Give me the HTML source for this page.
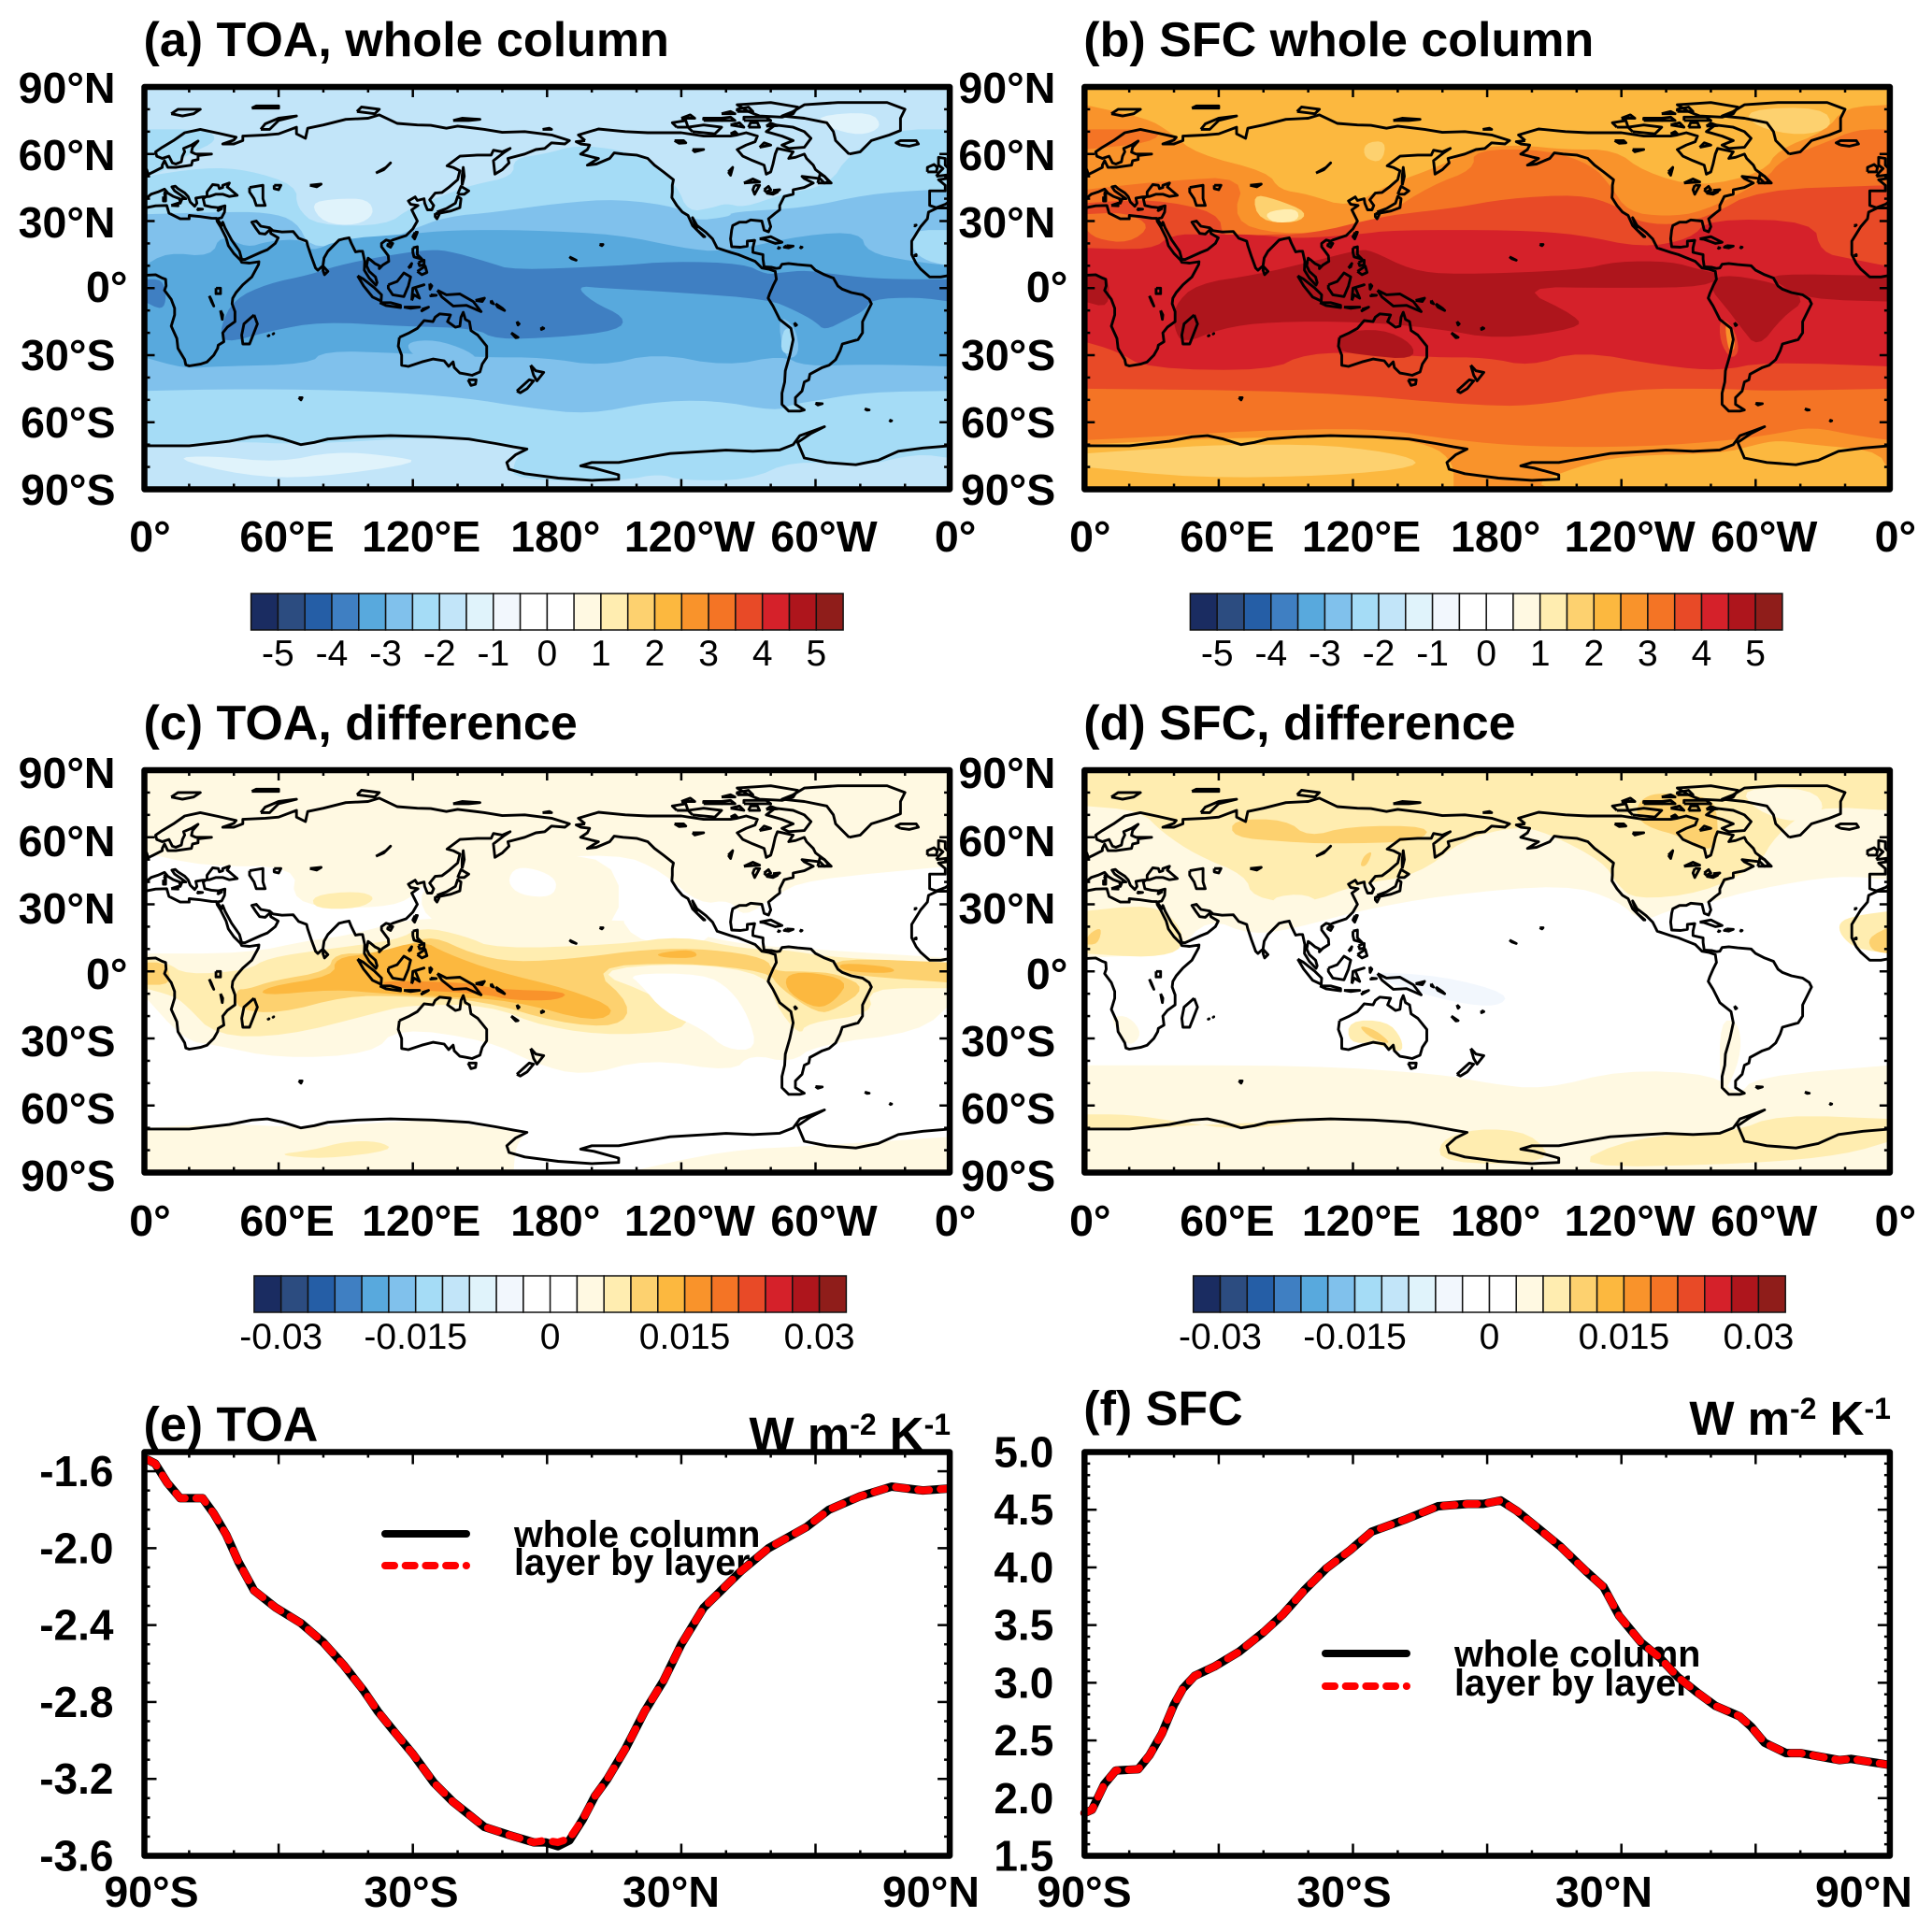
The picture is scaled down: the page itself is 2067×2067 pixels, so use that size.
<!DOCTYPE html>
<html lang="en">
<head>
<meta charset="utf-8">
<title>Radiative kernel maps and zonal means</title>
<style>
html,body{margin:0;padding:0;background:#fff}
svg{display:block}
text{font-family:"Liberation Sans",sans-serif;fill:#000}
</style>
</head>
<body>
<svg id="figure" xmlns="http://www.w3.org/2000/svg" width="2067" height="2067" viewBox="0 0 2067 2067"></svg>
<script>
// ---------- shared colour scale ----------
const palette=['#1a2c61','#2c4c80','#255ea6','#3f7fc2','#58a9dd','#80c1ec','#a5dcf6','#c2e5f9','#e0f3fb','#f2f7fd','#ffffff','#ffffff','#fff9e2','#ffedb0','#fdd16f','#fcb83f','#f9932b','#f47425','#e84a27','#d5212a','#ae151c','#8f1d1a'];
const C4=3,C5=4,C6=5,C7=6,C8=7,C9=8,BLUE=9,W=10,L13=12,L14=13,L15=14,L16=15,L17=16,L18=17,L19=18,L20=19,L21=20;
function band(n,s){const r=n.slice();for(let i=s.length-2;i>=0;i-=2){r.push(s[i],s[i+1]);}return r;}

// ---------- coastlines: flat lon,lat pairs ----------
const coastEurasia=[0,39.5,3,42,6,43,9,44.3,10.5,42.5,13,41,15.7,40,16,38,16.9,40,18.5,40,16,41.8,13.5,43.5,12.3,45.3,13.8,45.6,15,44.5,18,42.6,19.5,41,20.5,38.5,22.5,36.6,23.5,38,23,40.3,26,40.8,29,41,32,42,35,42,38,41,41.5,41.5,38,44.5,37,45.2,38,47,35,46,35,45,33.5,44.5,33,46,30.5,46.3,28,43,28,41.2,26.3,40,27,37,30,36.3,33,36,36,36.8,35.8,34,34.5,31.5,32.5,31,34.5,28,35,29.5,36,27,39,21.5,42.5,16.5,43.5,12.8,45,12.8,52,16,55,17.2,58.5,20,59.8,22.5,56.5,24.5,56.3,26.3,54,24.2,51.5,24.5,50,26.5,48,29.5,50,30,52,27.7,56,27,57.5,25.7,61.5,25.1,66.5,25.3,68,23.5,69,22.3,72.5,21,73,19,74.5,14.5,76.5,9,77.5,8,79.8,10,80.3,13.5,82,16.5,85,19.5,87,21.5,89,22,91.5,22.5,92.5,20,94.4,16.2,96,16.5,97.5,16.5,98.5,12,98.3,8,100.5,4.5,103.5,1.3,104,2.5,103.3,5,100.5,7.5,99.3,10,100,13.4,101,12.7,103,11,105,10,105,8.7,106.5,10.3,109.2,12,109,14.5,106,18.5,106,20,108,21.5,110,21,111,21.5,114,22.5,117,23.5,120,26.5,122,30,121,32,119.5,35,122.3,37,119,37.5,118,39,121,40.8,122,39.2,125,40,125.3,38,126.5,35,128.5,35,129.3,37,127.5,39.5,130,42.5,133,42.8,136,45,140,48.5,141,52.5,138,54,135.3,54.7,141,59,149,59.5,155,59.5,156,61.7,160,61,163.5,62.5,160.5,60.5,156,57,156.7,51,160,53,163,56,162.5,58,170,60,175,62,179,62.5,182,65,188,64.5,190,66,182,68.5,170,70,160,69.7,152,71,140,72.5,135,71.5,128,72.8,122,73,113,73.7,105,77.5,100,76,90,75.5,80,73,73,71.5,72,67,68,69,68,72,60,69,54,68.5,44,68,44,66,40,64.5,35,64.5,40,66.2,41,67.5,33,69.3,25,71,18,69.5,13,66,8,63,5,61,5.5,59,8,58,11,59,12.5,56,14,55.5,16.5,56.5,17,59,18,61,17.5,62.5,21,64,24,65.8,21.5,63,21,60.8,23,60,30,60,24,59.3,24,57.5,21.5,57,21,55,14,54,10.5,54,9,57,8,55,8,54,4,52,1.5,50.8,0,49.5];
const coastIberia=[360,49.5,358.5,49,355,48.5,358,46,358,43.5,351,43.5,351,37,354,36,358,37.5,360,38.8];
const coastAfricaEast=[0,5.7,5,6,8,4.5,9.5,4,9.7,1,9,-1,12,-5,13.5,-9,13.5,-12,12,-17,14.5,-22.5,15,-27,18,-32,18.5,-34.3,20,-34.8,25,-34,28,-33,31,-30,32.7,-27,33,-25.5,35.5,-24,35,-20,37,-17.5,40.5,-15,40.5,-10.5,39.2,-7,39.5,-4.5,41,-2,44,1.5,48,5,51,10.5,51.2,11.8,47,11.2,43.5,11.5,43,12.5,40,15.5,37.5,19,36.5,22.5,34,27.5,32.5,29.9,32.3,31.2,30,31.3,25,32,20,32.5,20,31,16,31,11,33.5,10,37,5,36.8,0,35.8];
const coastAfricaWest=[360,35.8,354.5,35.9,350.5,34,350,31,347,27.5,343,21,343,15,345,11,347,8.5,351,5,356,5,360,5.7];
const coastAmericas=[197,66,193,65.5,195,64.5,199,64,198,62,195,60,200,58.7,203,58,198,55,202,55.5,208,58,210,60.5,214,60,220,59.5,225,58,228,55,232,52,236.5,48.5,236,46,236,43,235.8,40.5,238,37,240.5,34,243,32.5,245,28,250,23,250.5,23,247,26,245,31.5,247,28,251,25,254,22,255,20,256,18,262,16,265.5,15,268,14,273,12,276,9,279,8.5,282,7.5,282.5,4,281,1,279.5,-2.5,278.8,-4.5,281,-8,284,-14,289,-18,290,-23,288.5,-30,286.5,-37,286.2,-42,285,-47,285,-52,288,-55,293,-55,295,-54.5,291,-52,291,-49,294,-46,295,-42,297,-41,297.5,-38.5,303,-35.5,306,-34.5,309,-32,311,-28,312,-25,319,-23,321,-20,321,-15,325,-7,324,-5,321,-3,316,-2,312,-0.5,310,1,308,4.5,304,6,300,8,298,10,292,10.5,288,11,285,10.7,284,9,282.5,8.8,280.5,9.3,277,9.5,276.5,13,276.5,15,272,16,272,18,272.8,21.4,269.5,21,269.5,18.8,266.5,18.3,262.5,18.5,262,22,262.5,26,263,28,266,29.5,269,29.5,271,30.5,276,30,277,26,279,25.2,280,27.5,279,31,282,33.5,284,35,284,37,286,41,290,42,290,44,295,45,299,47,295,49,294,50,302,49,304,47,306,47.5,304,50,300,53,299,55,296,58,295,60,291,58.5,288,58,290,61,283,62.5,282,60,281,55.5,280,52,278,51,277.5,53,277,55,272,57,267.5,59,265,62,269,64,273,65.5,274,68,269,69.5,265,68.5,262,68,250,68,240,69.5,225,69.5,215,70,203,71.2,194,68.5,197,66];
const coastAntarcticaWest=[0,-70.5,20,-70.5,38,-68.5,48,-66.5,55,-66,62,-67.5,70,-70,76,-69,82,-67.5,95,-66.5,110,-66,129,-66.5,145,-67.5,157,-69.5,165,-71,171,-72,166,-74.5,162,-78,163,-81,170,-83,185,-85,200,-86,212,-85.5,212,-83.5,201,-80.5,195,-79.5,200,-78,212,-78,235,-74,260,-72.5,272,-73,284,-72.4,290,-70,293,-66,300,-63.5,304,-62,298,-65,292,-69,295,-76,305,-78,318,-79,328,-77,337,-73,348,-71.5,360,-70.5];
const coastGreenland=[315,60,320,61,325,66,333,68.5,338,70.5,338,76,340,80,332,83,310,83,295,82,290,79,285,77,295,76,305,74,308,70,309,66,313,62,315,60];
const coastAustralia=[114,-22,113.5,-26,115,-30,115,-34.5,118,-35,124,-33,129,-31.7,134,-32.5,136,-35,138,-33,138.5,-35.5,141,-38,144,-38.5,146.5,-39,150,-37.5,151,-34,153,-31,153,-26,149,-21,146,-19,145.3,-15,143.5,-14,142.5,-10.8,141.5,-13,141,-17,139,-17.5,135.5,-15,136.8,-12,132,-11.5,130,-13,129,-15,125,-14.5,122,-18,118,-20.2,114,-22];
const coastIslands=[
[354,50,360,50.8,360,53,358,55,358,58,355,58.5,355,55,357,53.5,355,51.5,354,50],
[0,51,1.5,51.5,1,53,0,54],
[350,52,354,52,354.5,54,353,55.3,350,54,350,52],
[338,64,342,63.5,346,64.5,345,66,338,66,336,65,338,64],
[52,71,56,71,60,75,68,77,60,76,54,73.5,52,71],
[12,78,17,77,22,78,25,80,15,80,12,78],
[48,80.5,60,80.5,60,81.5,50,81.5,48,80.5],
[95,79,103,78,105,80,97,81,95,79],
[138,75,145,75,150,75.5,142,76,138,75],
[178,71,182,71,181,71.5,178,71],
[282,73,290,72,295,70,298,67,295,63,288,62.5,285,64,290,66,285,68,278,70,282,73],
[245,70,255,69,258,72,250,73,243,72,245,70],
[238,72,243,72,242,75,236,74,238,72],
[275,77,285,76.5,290,78,292,81,280,83,265,82,270,79,275,77],
[268,75,280,75,278,76.5,268,76.5,268,75],
[250,75,258,75,258,76,250,76,250,75],
[262,73,268,72,266,74,262,73],
[258,75,264,75,262,76.5,258,76,258,75],
[240,76,246,76,244,77.5,240,76],
[258,78,264,78,262,79,258,78],
[265,79,272,79,270,81,265,80,265,79],
[270,72,275,72,274,74,271,74,270,72],
[262,69,265,69,264,70,262,69],
[278,72.5,283,72.7,280,73.8,278,72.5],
[275,63,280,64,277,65,275,63],
[301,47,307,47,304,50,302,51,301,47],
[275,22,280,23,285,20.5,282,20,277,21.8,275,22],
[287,19,290,18.8,288,18,286,18.3,287,19],
[283,18.2,284,18,283.5,17.8,283,18.2],
[293,18.5,294,18.3,293.5,18,293,18.5],
[95.3,5.5,98,4,103,0,106,-3,105.8,-5.8,102,-4,98,1,95.3,5.5],
[105.2,-6.5,110,-6.5,114.5,-7.7,114.5,-8.7,108,-7.8,105.2,-6.5],
[116,-8.5,119,-8.5,123,-8.5,119,-9,116,-8.5],
[124,-9.5,127,-8.5,124,-10.2,124,-9.5],
[109,1.5,113,3,116,6.8,119,5,118,1,116,-3.8,111,-3,109,0,109,1.5],
[119.5,-5.5,120,0,125,1.5,121,0.3,123,-4.5,120.5,-3,119.5,-5.5],
[127.5,2,128.5,1,127.7,-0.5,127.5,2],
[128,-3,130.5,-3.2,128,-3.5,128,-3],
[131,-1,135,-3,141,-2.6,147,-6,150.5,-10.5,144,-7.7,138,-8,133,-4,131,-1],
[148,-5.5,152,-4.5,151,-6,148,-5.5],
[120,18,122,18.5,122,15,124,13,120.5,14,120,16,120,18],
[122,7.5,125.5,9.8,126.3,7,124,6,122,7.5],
[122.5,11.5,125,12.5,125,10.5,123,10,122.5,11.5],
[118,9,119.5,11,119,9.5,118,9],
[121,25,122,25,120.8,22,120,23,121,25],
[109,20,111,20,110,18.3,108.7,19,109,20],
[130.8,34,135,35.6,139,38,140,41,141.5,40,141,36,137,34.5,132,33.5,130.8,34],
[130,33.5,131.8,33,130.8,31,130,32,130,33.5],
[140,42,141.5,45.5,145,43.5,143,42,140,42],
[142,46,143,50,142.5,54,142,50,142,46],
[80,9.7,82,7.5,80.5,6,79.8,8,80,9.7],
[49,-12,50.5,-16,47,-25,44,-25,43.5,-21,44.5,-16,49,-12],
[166.5,-46,172,-41,174,-41.5,171,-45,168,-46.8,166.5,-46],
[172.7,-34.5,175,-37,178.5,-37.7,175.5,-41.5,174,-39,172.7,-34.5],
[144.7,-41,148.3,-41,148,-43,146,-43.5,144.7,-41],
[164,-20,167,-22,166,-22.2,164,-20],
[177.5,-17.5,178.5,-18,177.5,-18.5,177.5,-17.5],
[157,-7,160,-9,161,-10,158,-8.5,157,-7],
[166.5,-15,167.5,-16,167,-16.5,166.5,-15],
[155,-5.5,156,-7,155,-6.5,155,-5.5],
[203.5,19.5,205,19.5,204.5,19,203.5,19.5],
[190,14,192,13,193,12.5,191,13.2,190,14],
[69,-49,70.5,-49,70,-50,69,-49],
[57.5,-20.2,57.8,-20.3,57.5,-20.5,57.5,-20.2],
[55.3,-21,55.7,-21.2,55.3,-21.4,55.3,-21],
[300,-51.5,303,-51.7,301,-52.3,300,-51.5],
[322,-54,324,-54.5,323,-54.6,322,-54],
[333,-59,334,-59.3,333.5,-59.5,333,-59],
[344,14.5,345,15,345,14.5,344,14.5],
[344,28,345,28.2,344.5,27.8,344,28],
[12,37,15,38,15,36.8,12,37],
[8.5,41,9.5,41,9.5,39,8.5,39,8.5,41],
[8.7,42.5,9.5,43,9.5,41.6,8.7,42.5],
[23.5,35.5,26,35.3,24,35,23.5,35.5],
[32.5,35,34.5,35.5,33,34.7,32.5,35],
[47,45,53,46,53,40,54,37,50,37,49,40,47,43,47,45],
[58,46,61,46,60,44,58,44.5,58,46],
[74,46,79,46.5,77,45.3,74,46],
[103.5,51.5,107,53,110,56,108,54,103.5,51.5],
[32,0,34,0,34,-2.5,32,-2.5,32,0],
[29,-3.5,29.8,-5,31,-8,30,-6,29,-3.5],
[34,-10,35,-12,34.8,-14,34,-10],
[268,47,275,47.5,272,48.8,268,47],
[272.8,46,275,46,272.8,42,272,44,272.8,46],
[277,44,279,45.5,280,44,278,43,277,44],
[278,42.5,283,43,281,42,278,42.5],
[281,43.7,284,44,283,43.3,281,43.7],
[237,66,241,66,242,65,239,64.8,237,66],
[245,62,250,62,246,61,245,62],
[261,52,263,54,262,50.5,261,52],
[290.5,-15.5,291.5,-16.5,291,-16.8,290.5,-15.5]
];

// ---------- filled contours ----------
const layersA=[
[C7,[0,90,360,90,360,-90,0,-90]],
[C8,[0,90,360,90,360,71,335,71,315,60,306,46,285,42,268,36,260,38,254,36,243,34,238,46,226,57,212,62,193,64,179,60,165,58,165,50,146,46,135,42,119,36,108,28,77,28,68,36,68,46,46,53,27,54,0,50]],
[C7,[0,71,28,71,33,66,20,60,8,52,0,50]],
[C9,[74,38,85,40,100,40,103,33,95,28,80,29]],
[C9,[300,77,325,79,330,72,320,68,305,72]],
[C6,band([0,33,32,34,55,34,68,30,74,18,90,20,107,21,119,26,135,32,157,34,185,38,212,40,240,36,245,30,262,32,262,34,296,36,323,42,351,44,360,44],[0,-46,46,-45,102,-46,143,-49,171,-53.5,199,-56.5,226,-51,254,-50,282,-55,290,-52,296,-51,323,-46.5,360,-46])],
[C7,[343,26,360,26,360,10,350,12,343,17]],
[C5,band([0,10,10,16,30,14,34,24,46,18,55,21,71,22,74,16,88,22,115,24,138,26,171,26,212,24,240,18,259,16,296,24,320,25,323,16,343,12,360,10],[0,-31,18,-36,32,-35,74,-34,80,-28,113,-29,151,-31,179,-31,204,-35,229,-29,260,-35,285,-30,295,-35,323,-34,360,-35])],
[C6,[118,-24,130,-23,145,-28,150,-33,125,-33,118,-28]],
[C4,[40,-5,55,2,74,6,86,10,105,14,125,17,135,17,154,11.5,165,8,212,10,236,12,268,11,278,6,285,7,296,8,310,6,330,4,360,4,360,-6,345,-4,325,-5,322,-10,314,-14,304,-19,300,-15,291,-10,279,-5,240,-2,205,0,193,1,200,-6,215,-13,212,-19,185,-22,157,-23,148,-18,115,-17,79,-15,57,-19,35,-25,34,-17]],
[C4,[0,4,8,4,10,-4,8,-10,0,-6]],
[C6,[283,-12,291,-17,293,-30,286,-32]],
[C7,[286,-17,291,-20,289,-30,284,-28]],
[C8,[0,-71,38,-68.5,70,-70,130,-66.5,160,-70,170,-72,165,-78,165,-86,215,-86,230,-83,240,-86,270,-86,290,-77,320,-80,345,-74,360,-76,360,-90,0,-90]],
[C9,[12,-76,30,-75,60,-78,85,-73,110,-75,125,-78,75,-85,45,-84]]
];
const layersB=[
[L18,[0,90,360,90,360,-90,0,-90]],
[L17,[0,90,360,90,360,71,345,71,331,65,312,58,304,48,276,34,260,32,243,34,235,46,227,55,207,62,174,62,174,53,155,46,133,32,116,26,86,24,66,30,72,50,36,48,0,44]],
[L18,[0,71,35,71,30,65,0,62]],
[L16,[0,90,360,90,360,82,340,81,331,70,310,62,304,52,275,45,250,52,237,62,215,62,195,64,175,63,160,55,135,46,118,36,100,42,87,44,82,52,50,60,38,70,28,76,0,82]],
[L15,[75,42,85,40,100,34,95,29,78,30]],
[L14,[80,34,95,36,96,30,84,29]],
[L15,[125,65,135,66,133,56,125,58]],
[L15,[295,80,330,81,335,72,320,68,300,72]],
[L19,band([0,38,30,40,60,34,62,22,78,24,100,24,133,32,149,34,166,36,188,40,221,42,238,37,246,30,262,28,279,32,301,44,358,46,360,46],[0,-45,100,-46,180,-53,207,-52,243,-45,287,-45,304,-46,360,-45])],
[L18,[0,33,18,34,30,28,20,20,5,22,0,27]],
[L20,band([0,18,30,17,39,24,55,24,77,24,94,22,122,24,138,26,193,26,221,24,249,18,271,22,279,31,326,30,329,16,343,13,358,10,360,10],[0,-24,14,-28,28,-36,83,-37,99,-29,132,-29,155,-31,180,-31,199,-35,221,-28,260,-35,284,-37,304,-33,360,-35])],
[L21,[40,-8,50,2,77,6,102,12,122,17,128,17,146,8,165,6,221,8,238,12,262,12,276,8,284,6.5,279,0.6,240,0,193,0.6,221,-13,221,-18,185,-23,157,-18,124,-15,83,-15,61,-18,44,-25,40,-18]],
[L21,[279,0.6,284,6.5,309,2.5,323,-5,312,-13,301,-27,293,-17,287,-9]],
[L21,[307,6.5,358,5.5,360,5.5,360,-6,323,-5,309,2.5]],
[L21,[0,6,11,6,11,-9,0,-6]],
[L21,[113,-20,133,-18,147,-25,147,-32,125,-30,113,-28]],
[L19,[284,-13,290,-17,293,-28,289,-32,284,-24]],
[L17,[286,-15,290,-18,291,-27,288,-29]],
[L17,[0,-68,40,-66,70,-64,130,-62.5,165,-68,200,-71,250,-71,290,-68,310,-65,325,-62,345,-66,360,-68,360,-90,0,-90]],
[L16,[0,-70,40,-68,70,-67,130,-66,155,-70,165,-78,165,-90,0,-90]],
[L16,[220,-80,240,-75,285,-74,300,-70,310,-68,325,-70,358,-73,360,-90,215,-90,200,-88]],
[L15,[0,-74,30,-72,60,-70,110,-70,145,-75,150,-80,110,-84,50,-85,0,-80]]
];
const layersC=[
[W,[0,90,360,90,360,-90,0,-90]],
[L13,[0,90,360,90,360,47,296,41,282,34,268,24,262,32,248,30,231,45,212,53,157,49,124,39,116,30,91,28,66,31,68,47,27,47,0,53]],
[L13,band([0,8,46,8,74,14,91,16,124,25,157,20,212,24,240,18,268,12,296,10,360,6],[0,-11,18,-31,32,-33,60,-39,102,-37,113,-25,154,-31,174,-41,196,-47,225,-39,263,-45,271,-37,289,-41,300,-33,347,-27,360,-15])],
[L13,[124,40,157,50,212,53,212,14,150,14,124,24]],
[W,[166,47,178,45,185,40,182,33,168,34,162,40]],
[W,[214,52,232,44,248,30,255,24,250,10,216,14,212,34]],
[L14,[75,34,95,36,104,33,96,28,76,28]],
[L14,band([0,6,10,4,18.5,-1.5,46,0.4,55,6,82,10,113,14,124,20,143,16,157,10,212,12,240,16,268,10,284,10,309,6,360,4],[0,-7.5,13,-11,18.5,-15,32,-29,63,-29,102,-19,118,-15,154,-15,179,-25,212,-29,248,-25,229,-11,199,0.4,243,4,279,-1.5,282,-15,293,-29,296,-23,326,-19,323,-7.5,360,-7.5])],
[W,[216,-1,250,-1,262,-8,270,-20,274,-35,260,-35,250,-26,232,-18,222,-6]],
[L15,[41,-8,46,-8,58,-4,82,0,85,8,102,8,118,12,129,16,146,8,165,4,195,6,225,10,253,10,278,6,281,0,296,0,310,-1,323,-7.5,309,-17,301,-19,284,-7.5,279,0,240,4,199,2,218,-15,212,-25,185,-23,151,-13,115,-11,90,-11,60,-19,41,-17]],
[L15,[309,6,360,4,360,-5,320,-2,309,0]],
[L15,[0,4,10,4,12,-6,0,-6]],
[L16,[85,6,102,8,124,14,135,8,157,0,190,-8,212,-17,201,-23,165,-13,129,-11,107,-10,85,-8,52,-11,54,-7,85,-2]],
[L16,[286,-2,296,0,315,-4,309,-13,301,-17,288,-10]],
[L16,[228,8,245,10,248,6,232,6]],
[L16,[310,4,335,2,335,-1,312,0]],
[L17,[102,-4,146,-5,157,-8,190,-9,185,-13,165,-13,151,-10,115,-8]],
[L13,[0,-70,38,-68,70,-70,129,-66,155,-70,171,-72,166,-78,165,-90,0,-90]],
[L13,[215,-90,260,-80,300,-78,360,-74,360,-90]],
[L14,[58,-82,75,-80,90,-76,105,-76,112,-80,80,-84]]
];
const layersD=[
[W,[0,90,360,90,360,-90,0,-90]],
[L13,[0,90,360,90,360,41,337,43,301,37,276,30,263,28,249,22,238,32,215,39,160,34,122,27,97,20,75,16,55,24,41,8,0,6]],
[L14,[0,90,360,90,360,72,326,74,309,61,301,47,276,35,246,32,238,39,232,49,207,62,193,65,169,59,149,43,122,39,99,30,75,33,72,43,50,52,35,62,25,72,0,74]],
[L13,[293,82,325,82,332,72,318,66,300,72]],
[L13,[82,33,100,35,107,28,90,27]],
[L15,[66,68,90,68,100,60,118,65,155,65,150,58,110,57,90,58,66,60]],
[L15,[258,80,280,78,283,70,283,55,273,55,268,60,250,65,246,72,250,78]],
[L15,[125,52,129,54,126,47,123,47]],
[L14,[0,27,30,30,42,22,45,10,30,6,0,8]],
[L15,[2,17,8,20,6,12,0,12]],
[L14,[337,22,345,25,360,27,360,8,345,10,338,16]],
[L15,[350,15,360,20,360,8,352,9]],
[L13,[12,-20,20,-20,26,-28,20,-34,14,-26]],
[L13,[284,-22,292,-22,294,-35,288,-52,284,-52]],
[L14,[118,-22,135,-22,142,-30,142,-37,130,-32,118,-32]],
[L15,[122,-24,130,-26,138,-33,128,-30]],
[BLUE,[125,0,160,-2,190,-10,185,-16,165,-14,135,-5]],
[L13,[0,-42,100,-42,160,-46,180,-50,205,-53,240,-44,282,-46,292,-56,300,-47,360,-42,360,-90,0,-90]],
[L14,[0,-64,20,-64,40,-67,70,-71,100,-67,120,-67,60,-68,20,-71,0,-70]],
[L14,[158,-76,175,-70,200,-72,210,-86,160,-86]],
[L14,[215,-88,245,-74,290,-72,310,-64,360,-66,360,-76,340,-82,300,-86]]
];

// ---------- colourbar labels ----------
const barLabelsWhole=['-5','-4','-3','-2','-1','0','1','2','3','4','5'];
const barIndexWhole=[1,3,5,7,9,11,13,15,17,19,21];
const barLabelsDiff=['-0.03','-0.015','0','0.015','0.03'];
const barIndexDiff=[1,6,11,16,21];

// ---------- map axis tick labels ----------
const mapLatLabels=['90°N','60°N','30°N','0°','30°S','60°S','90°S'];
const mapLatValues=[90,60,30,0,-30,-60,-90];
const mapLonLabels=['0°','60°E','120°E','180°','120°W','60°W','0°'];
const mapLonValues=[0,60,120,180,240,300,360];

// ---------- zonal-mean line charts ----------
const latE=[-89.3,-87.6,-84.9,-82,-77,-74.5,-71.7,-69,-65.5,-60.6,-55,-50,-45.4,-41,-37.8,-34.3,-30,-25.3,-21,-14,-8.7,-3,-0.4,2.4,5,8,10.7,13.5,17.6,21.8,26,30,35,39.8,43.3,49.5,58,63,70,77,84,89.6];
const valuesEWhole=[-1.54,-1.56,-1.66,-1.74,-1.74,-1.82,-1.93,-2.07,-2.22,-2.31,-2.39,-2.49,-2.61,-2.74,-2.85,-2.95,-3.07,-3.22,-3.32,-3.45,-3.49,-3.53,-3.53,-3.55,-3.52,-3.41,-3.29,-3.2,-3.04,-2.85,-2.69,-2.5,-2.31,-2.2,-2.12,-2,-1.89,-1.8,-1.73,-1.68,-1.7,-1.69];
const valuesELayer=[-1.54,-1.56,-1.66,-1.74,-1.74,-1.82,-1.93,-2.07,-2.22,-2.31,-2.39,-2.49,-2.61,-2.74,-2.85,-2.95,-3.07,-3.22,-3.32,-3.45,-3.49,-3.53,-3.52,-3.53,-3.51,-3.41,-3.29,-3.2,-3.04,-2.85,-2.69,-2.5,-2.31,-2.2,-2.12,-2,-1.89,-1.8,-1.73,-1.68,-1.7,-1.69];
const latF=[-90,-88.3,-85.6,-83,-78,-75.5,-72.7,-70,-68,-65.4,-61,-55.4,-49.9,-45.7,-40.9,-36,-30.6,-25.8,-18,-11,-4.4,-0.9,3,6.6,12,16.4,22,26,29.5,34.4,38.5,42.6,46.8,51,56.4,59,62,66.8,70,78.7,81.3,89.6];
const valuesFWhole=[1.87,1.9,2.12,2.24,2.25,2.37,2.56,2.81,2.95,3.06,3.14,3.27,3.44,3.59,3.8,3.99,4.15,4.31,4.42,4.53,4.55,4.55,4.58,4.49,4.32,4.18,3.97,3.83,3.58,3.35,3.22,3.05,2.92,2.8,2.71,2.62,2.48,2.39,2.39,2.33,2.34,2.29];
const valuesFLayer=[1.87,1.9,2.12,2.24,2.25,2.37,2.56,2.81,2.95,3.06,3.14,3.27,3.44,3.59,3.8,3.99,4.15,4.31,4.42,4.53,4.55,4.55,4.58,4.49,4.32,4.18,3.97,3.83,3.58,3.35,3.22,3.05,2.92,2.8,2.71,2.62,2.48,2.39,2.39,2.33,2.34,2.29];
const lineXLabels=['90°S','30°S','30°N','90°N'];
const lineELabels=['-1.6','-2.0','-2.4','-2.8','-3.2','-3.6'];
const lineEValues=[-1.6,-2,-2.4,-2.8,-3.2,-3.6];
const lineFLabels=['5.0','4.5','4.0','3.5','3.0','2.5','2.0','1.5'];
const lineFValues=[5,4.5,4,3.5,3,2.5,2,1.5];

// ---------- drawing helpers ----------
const svg=document.getElementById('figure');
const NS='http://www.w3.org/2000/svg';
function mk(parent,tag,name,attrs,content){
  const el=document.createElementNS(NS,tag);
  
  
  for(const k in attrs){el.setAttribute(k,attrs[k]);}
  if(content!==undefined){el.textContent=content;}
  parent.appendChild(el);
  return el;
}
function pointsOf(flat,fx,fy){
  const out=[];
  for(let i=0;i<flat.length;i+=2){out.push(fx(flat[i]).toFixed(1)+','+fy(flat[i+1]).toFixed(1));}
  return out.join(' ');
}
// rounds contour corners, leaving vertices that sit on the map edge in place
function smoothRing(flat,rounds){
  let cur=flat;
  for(let r=0;r<rounds;r++){
    const next=[];
    const n=cur.length/2;
    for(let i=0;i<n;i++){
      const x=cur[2*i],y=cur[2*i+1];
      if(x<=0||x>=360||Math.abs(y)>=90){next.push(x,y);continue;}
      const px=cur[2*((i+n-1)%n)],py=cur[2*((i+n-1)%n)+1];
      const qx=cur[2*((i+1)%n)],qy=cur[2*((i+1)%n)+1];
      next.push(x+0.25*(px-x),y+0.25*(py-y),x+0.25*(qx-x),y+0.25*(qy-y));
    }
    cur=next;
  }
  return cur;
}
function frame(g,left,top,w,h){
  mk(g,'rect','plot-frame',{x:left,y:top,width:w,height:h,fill:'none',stroke:'#000','stroke-width':6.5,'stroke-linejoin':'round'});
}
function tick(g,name,x1,y1,x2,y2,sw){
  mk(g,'line',name,{x1:x1,y1:y1,x2:x2,y2:y2,stroke:'#000','stroke-width':sw});
}
function colourbar(g,left,top,labels,index,labelBase){
  const w=633.5,h=39,step=w/22;
  palette.forEach(function(c,i){
    mk(g,'rect','colorbar-box',{x:(left+i*step).toFixed(1),y:top,width:step.toFixed(1),height:h,fill:c,stroke:'#111','stroke-width':1.5});
  });
  labels.forEach(function(t,i){
    mk(g,'text','colorbar-label',{x:(left+index[i]*step).toFixed(1),y:labelBase,'text-anchor':'middle','font-size':39},t);
  });
}
let clipCount=0;
function mapPanel(name,left,top,title,titleBase,layers,barLeft,barTop,labels,index,labelBase,latBase,lonBase){
  const w=861.6,h=430.5;
  const g=mk(svg,'g',name,{});
  const fx=function(lon){return left+lon/360*w;};
  const fy=function(lat){return top+(90-lat)/180*h;};
  const clipId='clip'+(++clipCount);
  const defs=mk(g,'defs','map-clip-defs',{});
  const cp=mk(defs,'clipPath','map-clip',{id:clipId});
  mk(cp,'rect','map-clip-rect',{x:left,y:top,width:w,height:h});
  const field=mk(g,'g','contour-field',{'clip-path':'url(#'+clipId+')'});
  layers.forEach(function(l){
    mk(field,'polygon','contour-band',{points:pointsOf(smoothRing(l[1],2),fx,fy),fill:palette[l[0]]});
  });
  const coast=mk(g,'g','coastlines',{'clip-path':'url(#'+clipId+')',fill:'none',stroke:'#000','stroke-width':2.9,'stroke-linejoin':'round'});
  [coastEurasia,coastIberia,coastAfricaEast,coastAfricaWest,coastAmericas,coastAntarcticaWest,coastGreenland,coastAustralia].concat(coastIslands).forEach(function(c){
    mk(coast,'polyline','coastline',{points:pointsOf(c,fx,fy)});
  });
  for(let lon=0;lon<=360;lon+=20){
    const major=lon%60===0,len=major?11:6;
    tick(g,'x-axis-tick',fx(lon),top+h,fx(lon),top+h-len,2.5);
    tick(g,'x-axis-tick-top',fx(lon),top,fx(lon),top+len,2.5);
  }
  for(let lat=-90;lat<=90;lat+=10){
    const major=lat%30===0,len=major?11:6;
    tick(g,'y-axis-tick',left,fy(lat),left+len,fy(lat),2.5);
    tick(g,'y-axis-tick-right',left+w,fy(lat),left+w-len,fy(lat),2.5);
  }
  frame(g,left,top,w,h);
  mk(g,'text','panel-title',{x:left-1,y:titleBase,'font-size':52,'font-weight':'bold'},title);
  mapLatLabels.forEach(function(t,i){
    const isZero=mapLatValues[i]===0;
    mk(g,'text','y-axis-label',{x:left+(isZero?-18:-31),y:latBase[i],'text-anchor':'end','font-size':46.5,'font-weight':'bold'},t);
  });
  mapLonLabels.forEach(function(t,i){
    mk(g,'text','x-axis-label',{x:fx(mapLonValues[i])+(i===0||i===6?6:9),y:lonBase,'text-anchor':'middle','font-size':46.5,'font-weight':'bold'},t);
  });
  colourbar(g,barLeft,barTop,labels,index,labelBase);
}
function linePanel(name,left,top,title,titleBase,unitBase,yMin,yMax,minorY,majorY,yLabels,yValues,lats,whole,layer,legendLineX,legendY1,legendY2,legendTextX,legendBase1,legendBase2,xLabelStart){
  const w=861.6,h=432;
  const g=mk(svg,'g',name,{});
  const fx=function(lat){return left+(lat+90)/180*w;};
  const fy=function(v){return top+(yMax-v)/(yMax-yMin)*h;};
  mk(g,'text','panel-title',{x:left-1,y:titleBase,'font-size':52,'font-weight':'bold'},title);
  const unit=mk(g,'text','unit-label',{x:left+w+1,y:unitBase,'text-anchor':'end','font-size':51,'font-weight':'bold'},'');
  mk(unit,'tspan','unit-text',{},'W m');
  mk(unit,'tspan','unit-exponent',{dy:-17,'font-size':32},'-2');
  mk(unit,'tspan','unit-text',{dy:17},' K');
  mk(unit,'tspan','unit-exponent',{dy:-17,'font-size':32},'-1');
  mk(g,'line','legend-whole-column-line',{x1:legendLineX+3,y1:legendY1,x2:legendLineX+90,y2:legendY1,stroke:'#000','stroke-width':8,'stroke-linecap':'round'});
  mk(g,'line','legend-layer-by-layer-line',{x1:legendLineX+3,y1:legendY2,x2:legendLineX+90,y2:legendY2,stroke:'#f00','stroke-width':8,'stroke-linecap':'round','stroke-dasharray':'10 11.7'});
  mk(g,'text','legend-whole-column-label',{x:legendTextX,y:legendBase1,'font-size':39.5,'font-weight':'bold'},'whole column');
  mk(g,'text','legend-layer-by-layer-label',{x:legendTextX,y:legendBase2,'font-size':39.5,'font-weight':'bold'},'layer by layer');
  for(let lat=-90;lat<=90;lat+=10){
    const major=lat%30===0,len=major?13:6;
    tick(g,'x-axis-tick',fx(lat),top+h,fx(lat),top+h-len,2.5);
    tick(g,'x-axis-tick-top',fx(lat),top,fx(lat),top+len,2.5);
  }
  const nY=Math.round((yMax-yMin)/minorY);
  for(let i=0;i<=nY;i++){
    const v=yMin+i*minorY;
    const isMajor=Math.abs(v/majorY-Math.round(v/majorY))<0.01;
    const len=isMajor?13:6;
    tick(g,'y-axis-tick',left,fy(v),left+len,fy(v),2.5);
    tick(g,'y-axis-tick-right',left+w,fy(v),left+w-len,fy(v),2.5);
  }
  const wholePts=[];
  const layerPts=[];
  lats.forEach(function(l,i){
    wholePts.push(fx(l),whole[i]);
    layerPts.push(fx(l),layer[i]);
  });
  const same=function(x){return x;};
  mk(g,'polyline','whole-column-line',{points:pointsOf(wholePts,same,fy),fill:'none',stroke:'#000','stroke-width':9,'stroke-linejoin':'round','stroke-linecap':'round'});
  mk(g,'polyline','layer-by-layer-line',{points:pointsOf(layerPts,same,fy),fill:'none',stroke:'#f00','stroke-width':8,'stroke-linejoin':'round','stroke-linecap':'round','stroke-dasharray':'12 12'});
  frame(g,left,top,w,h);
  yLabels.forEach(function(t,i){
    mk(g,'text','y-axis-label',{x:left-33,y:fy(yValues[i])+16,'text-anchor':'end','font-size':46,'font-weight':'bold'},t);
  });
  lineXLabels.forEach(function(t,i){
    mk(g,'text','x-axis-label',{x:xLabelStart+i*278,y:2040,'text-anchor':'middle','font-size':46.5,'font-weight':'bold'},t);
  });
}

// ---------- panels ----------
const latBaseTop=[110,182,254,323,396,468,540];
const latBaseMid=[843,916,988,1058,1130,1202,1274];
mapPanel('panel-a',154.5,93,'(a) TOA, whole column',60,layersA,268.6,635,barLabelsWhole,barIndexWhole,712,latBaseTop,590);
mapPanel('panel-b',1160.3,93,'(b) SFC whole column',60,layersB,1273.4,635,barLabelsWhole,barIndexWhole,712,latBaseTop,590);
mapPanel('panel-c',154.5,824,'(c) TOA, difference',791,layersC,271.9,1365,barLabelsDiff,barIndexDiff,1443,latBaseMid,1322);
mapPanel('panel-d',1160.3,824,'(d) SFC, difference',791,layersD,1276.7,1365,barLabelsDiff,barIndexDiff,1443,latBaseMid,1322);
linePanel('panel-e',154.5,1553.5,'(e) TOA',1541.5,1552,-3.6,-1.5,0.1,0.4,lineELabels,lineEValues,latE,valuesEWhole,valuesELayer,409,1641,1675,550,1655,1685,162);
linePanel('panel-f',1160.3,1553.5,'(f) SFC',1524.5,1535,1.5,5,0.1,0.5,lineFLabels,lineFValues,latF,valuesFWhole,valuesFLayer,1415,1769,1804,1556,1783,1814,1160);
</script>
</body>
</html>
